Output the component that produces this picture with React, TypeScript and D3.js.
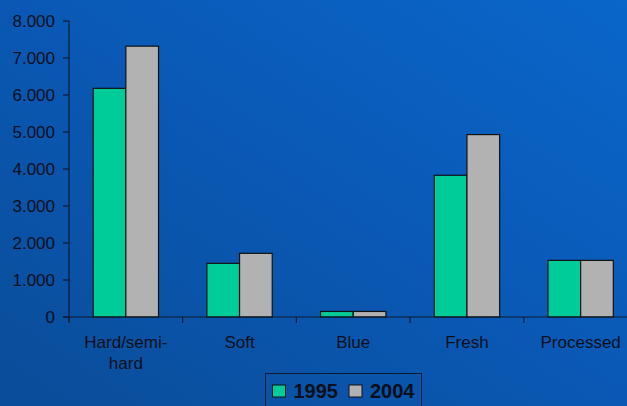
import React from "react";
import * as d3 from "d3";

const categories = ["Hard/semi-hard", "Soft", "Blue", "Fresh", "Processed"];
const categoryLines = [["Hard/semi-", "hard"], ["Soft"], ["Blue"], ["Fresh"], ["Processed"]];
const seriesNames = ["1995", "2004"];
const values1995 = [6180, 1450, 150, 3830, 1530];
const values2004 = [7320, 1720, 150, 4930, 1530];
const yTicks = [0, 1000, 2000, 3000, 4000, 5000, 6000, 7000, 8000];
const seriesColors = ["#00CC99", "#B2B2B2"];

const W = 627;
const H = 406;
const left = 69;
const top = 21;
const bottom = 317;
const step = 113.7;

export default function App() {
  const x0 = d3.scaleBand<string>().domain(categories).range([left, left + step * categories.length]).padding(0);
  const x1 = d3.scaleBand<string>().domain(seriesNames).range([0, x0.step()]).paddingInner(0).paddingOuter(0.74);
  const y = d3.scaleLinear().domain([0, 8000]).range([bottom, top]);
  const fmt = (v: number) => (v === 0 ? "0" : d3.format(",")(v).replace(/,/g, "."));
  const seriesValues = [values1995, values2004];
  const axisColor = "#0d1a2e";
  const textColor = "#0a0f1a";
  const font = "'Liberation Sans', Arial, sans-serif";

  return (
    <div style={{ position: "fixed", left: 0, top: 0, width: W, height: H }}>
      <svg width={W} height={H} style={{ display: "block" }}>
        <defs>
          <linearGradient id="bg" x1="0" y1="1" x2="1" y2="0">
            <stop offset="0" stopColor="#0a4d98" />
            <stop offset="0.5" stopColor="#0a58b4" />
            <stop offset="1" stopColor="#0a66ca" />
          </linearGradient>
        </defs>
        <rect x={0} y={0} width={W} height={H} fill="url(#bg)" />

        {/* bars */}
        {categories.map((c, i) => (
          <g key={c} transform={`translate(${x0(c)},0)`}>
            {seriesNames.map((s, j) => {
              const v = seriesValues[j][i];
              return (
                <rect
                  key={s}
                  x={x1(s)}
                  y={y(v)}
                  width={x1.bandwidth()}
                  height={y(0) - y(v)}
                  fill={seriesColors[j]}
                  stroke="#111"
                  strokeWidth={1.2}
                />
              );
            })}
          </g>
        ))}

        {/* y axis */}
        <line x1={left} x2={left} y1={top} y2={bottom + 5} stroke={axisColor} strokeWidth={1.2} />
        {yTicks.map((t) => (
          <g key={t}>
            <line x1={left - 6} x2={left} y1={y(t)} y2={y(t)} stroke={axisColor} strokeWidth={1.2} />
            <text
              x={left - 14}
              y={y(t)}
              dy="0.36em"
              textAnchor="end"
              fontFamily={font}
              fontSize={17}
              fill={textColor}
            >
              {fmt(t)}
            </text>
          </g>
        ))}

        {/* x axis */}
        <line x1={left - 6} x2={W} y1={bottom} y2={bottom} stroke={axisColor} strokeWidth={1.2} />
        {categories.map((c) => (
          <line key={c} x1={x0(c)} x2={x0(c)} y1={bottom} y2={bottom + 6} stroke={axisColor} strokeWidth={1.2} />
        ))}
        {categories.map((c, i) => (
          <text
            key={c}
            x={(x0(c) as number) + x0.bandwidth() / 2}
            y={348}
            textAnchor="middle"
            fontFamily={font}
            fontSize={17}
            fill={textColor}
          >
            {categoryLines[i].map((ln, k) => (
              <tspan key={k} x={(x0(c) as number) + x0.bandwidth() / 2} dy={k === 0 ? 0 : 21}>
                {ln}
              </tspan>
            ))}
          </text>
        ))}

        {/* legend */}
        <rect x={265.5} y={373.5} width={156} height={40} fill="none" stroke="#0d1a2e" strokeWidth={1} />
        {seriesNames.map((s, j) => (
          <g key={s} transform={`translate(${272.5 + j * 76.5},385)`}>
            <rect x={0} y={0} width={13} height={12} fill={seriesColors[j]} stroke="#111" strokeWidth={1} />
            <text x={21} y={12.5} fontFamily={font} fontSize={20} fontWeight="bold" fill={textColor}>
              {s}
            </text>
          </g>
        ))}
      </svg>
    </div>
  );
}
